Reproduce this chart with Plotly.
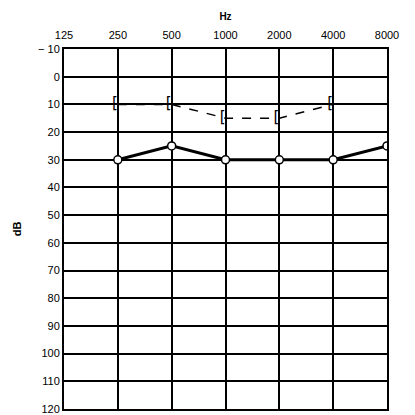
import plotly.graph_objects as go

freqs = [125, 250, 500, 1000, 2000, 4000, 8000]
freq_labels = ["125", "250", "500", "1000", "2000", "4000", "8000"]
db_ticks = [-10, 0, 10, 20, 30, 40, 50, 60, 70, 80, 90, 100, 110, 120]
db_labels = ["− 10", "0", "10", "20", "30", "40", "50", "60", "70", "80", "90", "100", "110", "120"]

air_freqs = [250, 500, 1000, 2000, 4000, 8000]
air_db = [30, 25, 30, 30, 30, 25]

bone_freqs = [250, 500, 1000, 2000, 4000]
bone_db = [10, 10, 15, 15, 10]

fig = go.Figure()
fig.add_trace(go.Scatter(
    x=bone_freqs, y=bone_db, mode="lines+text",
    text=["["] * len(bone_freqs), textposition="middle left",
    textfont=dict(size=15, color="#000000", family="DejaVu Sans"),
    line=dict(color="black", width=1.5, dash="dash"),
    showlegend=False,
))
fig.add_trace(go.Scatter(
    x=air_freqs, y=air_db, mode="lines+markers",
    line=dict(color="black", width=3),
    marker=dict(symbol="circle", size=8, color="white", line=dict(color="black", width=1.5)),
    showlegend=False,
))

fig.update_xaxes(
    type="log", side="top", automargin=False,
    range=[2.09691, 3.90309],
    tickvals=freqs, ticktext=freq_labels,
    showgrid=True, gridcolor="black", gridwidth=2,
    showline=True, linecolor="black", linewidth=2, mirror=True,
    ticks="", zeroline=False, ticklabelstandoff=4,
    tickfont=dict(size=11, color="black", family="Liberation Sans"),
    title=dict(text="<b>Hz</b>", font=dict(size=10, color="black", family="Liberation Sans"), standoff=6),
)
fig.update_yaxes(
    range=[120, -10], automargin=False,
    tickvals=db_ticks, ticktext=db_labels,
    showgrid=True, gridcolor="black", gridwidth=2,
    showline=True, linecolor="black", linewidth=2, mirror=True,
    ticks="", zeroline=False,
    tickfont=dict(size=11, color="black", family="Liberation Sans"),
    title=dict(text="<b>dB</b>", font=dict(size=11, color="black", family="Liberation Sans"), standoff=14),
)
# page body has an 8px default margin; size the figure so the plot area lands where the reference has it
fig.update_layout(
    width=407, height=407,
    margin=dict(l=56, r=28, t=41, b=6),
    paper_bgcolor="white", plot_bgcolor="white",
)
fig.write_html("out.html")
